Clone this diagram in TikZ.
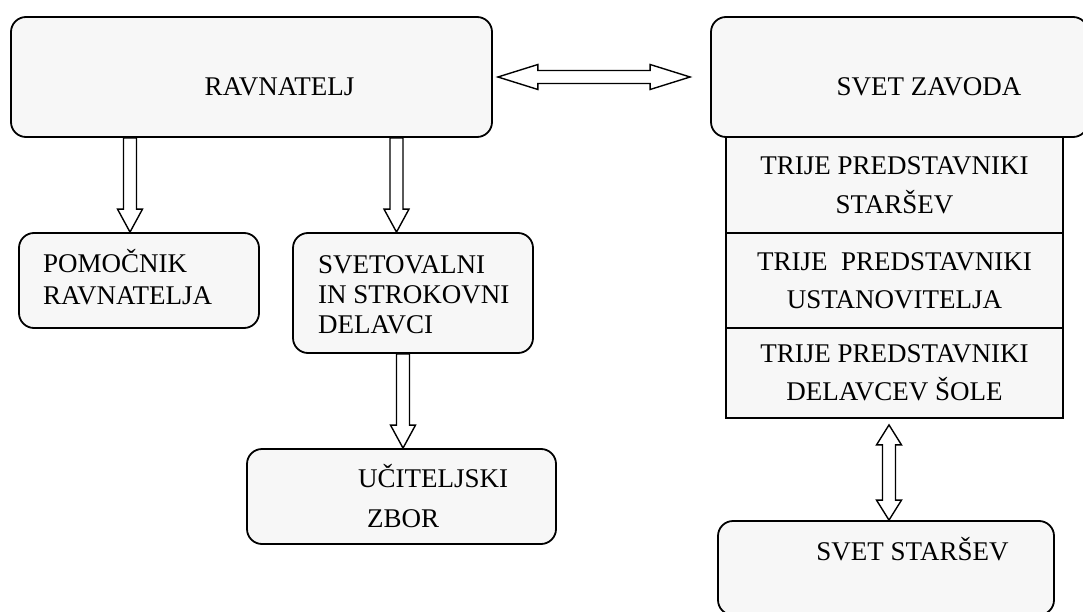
\documentclass[tikz,border=0pt]{standalone}
\usepackage{fontspec}
\setmainfont{Liberation Serif}
\usepackage{tikz}
\usetikzlibrary{calc}

\definecolor{boxfill}{RGB}{247,247,247}

% hollow block arrow, one head
\newcommand\fatarrow[3][23pt]{%
    \coordinate (fa-s) at (#2);
    \coordinate (fa-e) at (#3);
    \coordinate (fa-n) at ($(fa-e)!#1!(fa-s)$);
    \draw[hollow] ($(fa-s)!6.5pt!90:(fa-e)$) -- ($(fa-n)!6.5pt!-90:(fa-s)$)
        -- ($(fa-n)!12.5pt!-90:(fa-s)$) -- (fa-e) -- ($(fa-n)!12.5pt!90:(fa-s)$)
        -- ($(fa-n)!6.5pt!90:(fa-s)$) -- ($(fa-s)!6.5pt!-90:(fa-e)$) -- cycle;
}
% hollow block arrow, two heads
\newcommand\fatdarrow[3][20pt]{%
    \coordinate (fa-s) at (#2);
    \coordinate (fa-e) at (#3);
    \coordinate (fa-n) at ($(fa-e)!#1!(fa-s)$);
    \coordinate (fa-m) at ($(fa-s)!#1!(fa-e)$);
    \draw[hollow] (fa-s) -- ($(fa-m)!12.5pt!90:(fa-e)$) -- ($(fa-m)!6.5pt!90:(fa-e)$)
        -- ($(fa-n)!6.5pt!-90:(fa-s)$) -- ($(fa-n)!12.5pt!-90:(fa-s)$) -- (fa-e)
        -- ($(fa-n)!12.5pt!90:(fa-s)$) -- ($(fa-n)!6.5pt!90:(fa-s)$)
        -- ($(fa-m)!6.5pt!-90:(fa-e)$) -- ($(fa-m)!12.5pt!-90:(fa-e)$) -- cycle;
}

\begin{document}
\begin{tikzpicture}[x=1pt, y=-1pt,
    font=\fontsize{27}{32}\selectfont,
    rbox/.style={draw, line width=1.8pt, rounded corners=15pt, fill=boxfill, inner sep=0pt},
    sect/.style={draw, line width=1.8pt, fill=boxfill, minimum width=337, align=center, inner sep=0pt},
    txt/.style={inner sep=0pt},
    hollow/.style={draw, fill=white, line width=1.4pt, line join=miter}]
    \useasboundingbox (0,0) rectangle (1083,612);

    % Left side
    \node[rbox, minimum width=481, minimum height=120] (rav) at (251.5,77) {};
    \node[txt] (ravT) at (279.5,86.5) {RAVNATELJ};
    \node[rbox, minimum width=240, minimum height=95] (pom) at (139,280.5) {};
    \node[txt, anchor=west, align=left] (pomT) at (43,277) {POMOČNIK\\RAVNATELJA};
    \node[rbox, minimum width=240, minimum height=120] (svo) at (413,293) {};
    \node[txt, anchor=west, align=left, font=\fontsize{27}{30}\selectfont] (svoT) at (318,295) {SVETOVALNI\\IN STROKOVNI\\DELAVCI};
    \node[rbox, minimum width=309, minimum height=95] (uci) at (401.5,496.5) {};
    \node[txt, anchor=west, align=left, font=\fontsize{27}{40}\selectfont] (uciT) at (358,496) {UČITELJSKI\\\hspace*{9pt}ZBOR};

    % Right side
    \node[rbox, minimum width=377, minimum height=120] (zav) at (899.5,77) {};
    \node[txt] (zavT) at (929,86.5) {SVET ZAVODA};
    \node[sect, minimum height=96, font=\fontsize{27}{39}\selectfont] (s1) at (894.5,185) {TRIJE PREDSTAVNIKI\\STARŠEV};
    \node[sect, minimum height=95, font=\fontsize{27}{38}\selectfont] (s2) at (894.5,280.5) {TRIJE\ \ PREDSTAVNIKI\\USTANOVITELJA};
    \node[sect, minimum height=90, font=\fontsize{27}{37.5}\selectfont] (s3) at (894.5,373) {TRIJE PREDSTAVNIKI\\DELAVCEV ŠOLE};
    \node[rbox, minimum width=336, minimum height=94] (sst) at (886,568) {};
    \node[txt] (sstT) at (912.5,549) {SVET STARŠEV};

    % Arrows
    \coordinate (a1) at ([xshift=-9pt]pom.north);
    \coordinate (a2) at ([xshift=-16.5pt]svo.north);
    \coordinate (a3) at ([xshift=1.5pt]uci.north);
    \coordinate (a4) at ([xshift=-5.5pt,yshift=-6pt]s3.south);
    \fatarrow{rav.south -| a1}{a1}
    \fatarrow{rav.south -| a2}{a2}
    \fatarrow{svo.south -| a3}{a3}
    \fatdarrow[40pt]{[xshift=5pt]rav.east}{[xshift=-20pt]zav.west}
    \fatdarrow{a4}{sst.north -| a4}

\end{tikzpicture}
\end{document}
